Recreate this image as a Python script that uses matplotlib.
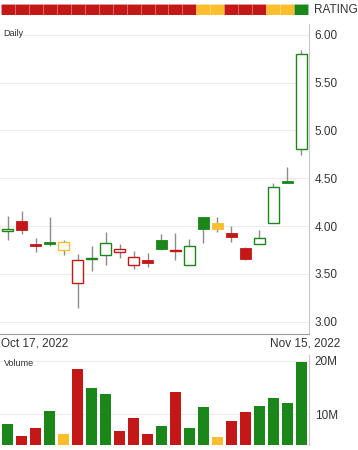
import matplotlib
matplotlib.use("Agg")
import matplotlib.pyplot as plt
from matplotlib.patches import Rectangle
import numpy as np

plt.rcParams['font.family'] = ['Liberation Sans', 'DejaVu Sans']

# --- data (Oct 17 .. Nov 15, 2022, daily) ---
opens  = [3.945, 4.05, 3.81, 3.83, 3.75, 3.40, 3.655, 3.695, 3.726, 3.59, 3.642,
          3.851, 3.74, 3.596, 4.09, 4.036, 3.928, 3.771, 3.81, 4.036, 4.475, 4.803]
closes = [3.97, 3.962, 3.795, 3.815, 3.834, 3.642, 3.665, 3.823, 3.76, 3.674, 3.611,
          3.76, 3.748, 3.789, 3.97, 3.973, 3.889, 3.66, 3.872, 4.412, 4.451, 5.797]
highs  = [4.11, 4.158, 3.872, 4.098, 3.855, 3.708, 3.79, 3.94, 3.816, 3.74, 3.72,
          3.92, 3.93, 3.868, 4.09, 4.09, 4.004, 3.785, 3.96, 4.448, 4.62, 5.842]
lows   = [3.85, 3.914, 3.732, 3.795, 3.70, 3.14, 3.53, 3.593, 3.67, 3.554, 3.57,
          3.75, 3.645, 3.596, 3.82, 3.94, 3.83, 3.645, 3.81, 4.036, 4.448, 4.744]
volume_m = [8.1, 5.9, 7.3, 10.6, 6.2, 18.4, 14.9, 13.75, 6.75, 9.2, 6.25,
            7.7, 14.1, 7.4, 11.3, 5.7, 8.75, 10.4, 11.5, 13.1, 12.0, 19.75]
signal = ['g', 'r', 'r', 'g', 'y', 'r', 'g', 'g', 'r', 'r', 'r',
          'g', 'r', 'g', 'g', 'y', 'r', 'r', 'g', 'g', 'g', 'g']
rating = ['r'] * 14 + ['y'] * 2 + ['r'] * 3 + ['y'] * 2 + ['g']
start_label = "Oct 17, 2022"
end_label = "Nov 15, 2022"
price_ticks = [3.0, 3.5, 4.0, 4.5, 5.0, 5.5, 6.0]
vol_ticks_m = [10, 20]

colors = {'r': '#C41818', 'y': '#FDBE2D', 'g': '#1B871B'}
grid_c = '#ececec'
text_c = '#333333'

W, H = 358, 450
fig = plt.figure(figsize=(W / 100, H / 100), dpi=100)

def frac(x0, y0, x1, y1):
    # pixel box (top-left origin) -> figure fraction rect
    return [x0 / W, 1 - y1 / H, (x1 - x0) / W, (y1 - y0) / H]

n = len(opens)
idx = np.arange(n)
xlim = (-0.54, n - 1 + 0.54)
bw = 0.83

# --- rating strip ---
ax_r = fig.add_axes(frac(0, 4, 309, 15))
ax_r.bar(idx, [1] * n, width=1.0, color=[colors[c] for c in rating],
         edgecolor=(1, 1, 1, 0.18), linewidth=0.4)
ax_r.set_xlim(xlim)
ax_r.set_ylim(0, 1)
ax_r.axis('off')
fig.text(314 / W, 1 - 10 / H, "RATING", fontsize=8.5, color=text_c, va='center', ha='left')

# --- price panel ---
ax = fig.add_axes(frac(0, 24, 309, 334))
for p in price_ticks:
    ax.axhline(p, color=grid_c, lw=0.8, zorder=0)
for i in range(n):
    c = colors[signal[i]]
    ax.vlines(i, lows[i], highs[i], color='#8c8c8c', lw=1, zorder=1)
    lo, hi = min(opens[i], closes[i]), max(opens[i], closes[i])
    h = max(hi - lo, 0.014)
    if closes[i] > opens[i]:
        ax.add_patch(Rectangle((i - bw / 2, lo), bw, h, facecolor='white',
                               edgecolor=c, lw=1, zorder=2))
    else:
        ax.add_patch(Rectangle((i - bw / 2, lo), bw, h, facecolor=c,
                               edgecolor=c, lw=0.6, zorder=2))
ax.set_xlim(xlim)
ax.set_ylim(2.871, 6.114)
ax.yaxis.tick_right()
ax.set_yticks(price_ticks)
ax.set_yticklabels([f"{p:.2f}" for p in price_ticks])
ax.tick_params(axis='y', length=0, pad=4, labelsize=8.5, labelcolor=text_c)
ax.set_xticks([])
for s in ['top', 'left']:
    ax.spines[s].set_visible(False)
ax.spines['right'].set_color('#c8c8c8')
ax.spines['bottom'].set_color('#9a9a9a')
ax.text(0.012, 0.985, "Daily", transform=ax.transAxes, fontsize=6.5,
        color=text_c, va='top', ha='left')

fig.text(1 / W, 1 - 343 / H, start_label, fontsize=8.5, color=text_c, va='center', ha='left')
fig.text(340 / W, 1 - 343 / H, end_label, fontsize=8.5, color=text_c, va='center', ha='right')

# --- volume panel ---
ax_v = fig.add_axes(frac(0, 355, 309, 445))
for v in vol_ticks_m:
    ax_v.axhline(v, color=grid_c, lw=0.8, zorder=0)
ax_v.bar(idx, volume_m, width=bw, color=[colors[c] for c in signal], zorder=2)
ax_v.set_xlim(xlim)
ax_v.set_ylim(4.2, 21.1)
ax_v.yaxis.tick_right()
ax_v.set_yticks(vol_ticks_m)
ax_v.set_yticklabels([f"{v}M" for v in vol_ticks_m])
ax_v.tick_params(axis='y', length=0, pad=4, labelsize=8.5, labelcolor=text_c)
ax_v.set_xticks([])
for s in ['top', 'left', 'bottom']:
    ax_v.spines[s].set_visible(False)
ax_v.spines['right'].set_color('#c8c8c8')
ax_v.text(0.012, 0.96, "Volume", transform=ax_v.transAxes, fontsize=6.5,
          color=text_c, va='top', ha='left')

fig.savefig("out.png", dpi=100)
